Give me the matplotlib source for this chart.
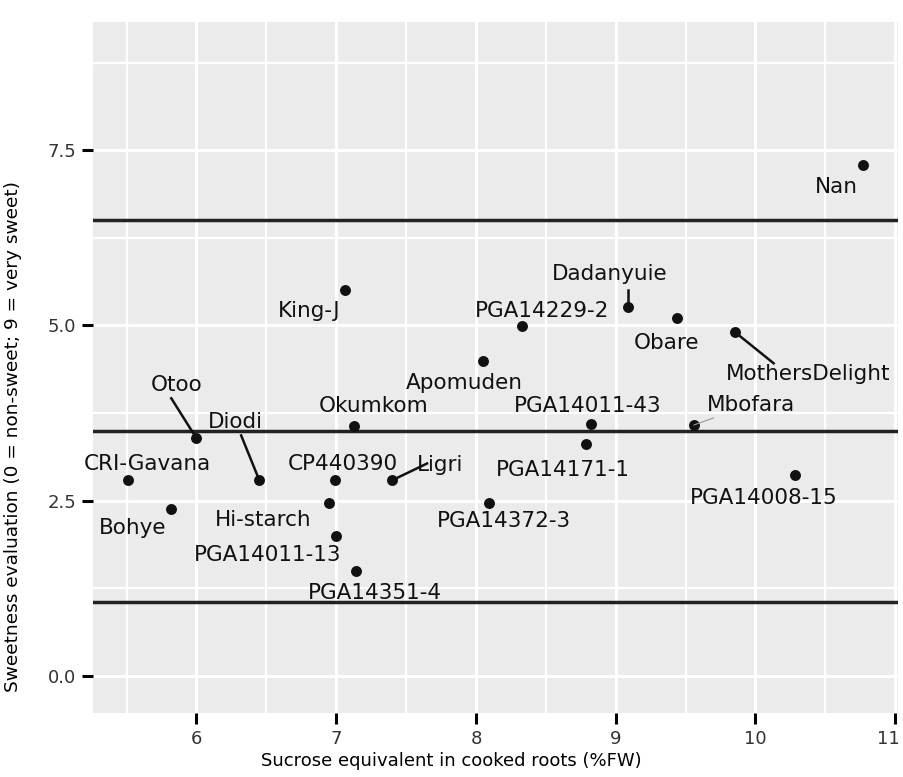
import matplotlib
matplotlib.use("Agg")
import matplotlib.pyplot as plt
from matplotlib.transforms import ScaledTranslation

# Data
cultivars = ["Nan", "King-J", "Dadanyuie", "Obare", "PGA14229-2", "MothersDelight",
             "Apomuden", "Okumkom", "PGA14011-43", "Mbofara", "Otoo", "PGA14171-1",
             "CRI-Gavana", "Diodi", "CP440390", "Ligri", "PGA14008-15", "Bohye",
             "Hi-starch", "PGA14372-3", "PGA14011-13", "PGA14351-4"]
sucrose = [10.77, 7.06, 9.09, 9.44, 8.33, 9.85,
           8.05, 7.13, 8.82, 9.56, 6.00, 8.79,
           5.51, 6.45, 6.99, 7.40, 10.28, 5.82,
           6.95, 8.09, 7.00, 7.14]
sweetness = [7.29, 5.50, 5.26, 5.10, 4.99, 4.91,
             4.49, 3.56, 3.60, 3.58, 3.39, 3.31,
             2.79, 2.79, 2.79, 2.79, 2.87, 2.38,
             2.46, 2.46, 1.99, 1.49]
thresholds = [6.5, 3.5, 1.05]

# Label placement (repelled label centres, data coords)
label_pos = {
    "Nan": (10.58, 6.97), "King-J": (6.81, 5.20), "Dadanyuie": (8.96, 5.73),
    "Obare": (9.36, 4.75), "PGA14229-2": (8.47, 5.20), "MothersDelight": (10.38, 4.30),
    "Apomuden": (7.92, 4.18), "Okumkom": (7.27, 3.85), "PGA14011-43": (8.80, 3.85),
    "Mbofara": (9.97, 3.86), "Otoo": (5.86, 4.15), "PGA14171-1": (8.62, 2.94),
    "CRI-Gavana": (5.65, 3.02), "Diodi": (6.28, 3.62), "CP440390": (7.05, 3.02),
    "Ligri": (7.74, 3.01), "PGA14008-15": (10.06, 2.54), "Bohye": (5.54, 2.11),
    "Hi-starch": (6.48, 2.22), "PGA14372-3": (8.20, 2.21), "PGA14011-13": (6.51, 1.72),
    "PGA14351-4": (7.28, 1.18),
}
# connector segment ends for labels pushed away from their point
segment_end = {
    "MothersDelight": (10.13, 4.46), "Otoo": (5.82, 3.96), "Diodi": (6.32, 3.43),
    "Ligri": (7.65, 3.03), "Dadanyuie": (9.09, 5.50), "Mbofara": (9.70, 3.68),
}

fig = plt.figure(figsize=(9.04, 7.77), dpi=100)
ax = fig.add_axes([0.1029, 0.0824, 0.8905, 0.8893])
ax.set_facecolor("#EBEBEB")
for s in ax.spines.values():
    s.set_visible(False)

ax.set_xlim(5.26, 11.02)
ax.set_ylim(-0.53, 9.33)
ax.set_xticks([6, 7, 8, 9, 10, 11])
ax.set_xticks([5.5, 6.5, 7.5, 8.5, 9.5, 10.5], minor=True)
ax.set_yticks([0.0, 2.5, 5.0, 7.5])
ax.set_yticklabels(["0.0", "2.5", "5.0", "7.5"])
ax.set_yticks([1.25, 3.75, 6.25, 8.75], minor=True)
ax.grid(True, which="major", color="white", linewidth=2.2)
ax.grid(True, which="minor", color="white", linewidth=1.6)
ax.set_axisbelow(True)
ax.tick_params(which="major", length=8, width=2.2, color="black", pad=4,
               labelsize=13, labelcolor="#333333")
ax.tick_params(which="minor", length=0)

# nudge the last x tick label so it stays inside the figure
last = ax.get_xticklabels()[-1]
last.set_transform(last.get_transform() + ScaledTranslation(-5 / 72, 0, fig.dpi_scale_trans))

for t in thresholds:
    ax.axhline(t, color="#222222", linewidth=2.5, zorder=3)

ax.scatter(sucrose, sweetness, s=62, color="#111111", zorder=4, linewidths=0)

for name, x, y in zip(cultivars, sucrose, sweetness):
    if name in segment_end:
        ex, ey = segment_end[name]
        if name == "Mbofara":
            ax.plot([x, ex], [y, ey], color="#999999", linewidth=0.8, zorder=4)
        else:
            ax.plot([x, ex], [y, ey], color="#111111", linewidth=1.8, zorder=4)
    lx, ly = label_pos[name]
    ax.text(lx, ly, name, ha="center", va="center", fontsize=15.5,
            color="#111111", zorder=2.5)

ax.set_xlabel("Sucrose equivalent in cooked roots (%FW)", fontsize=13)
ax.xaxis.set_label_coords(0.445, -0.056)
ax.set_ylabel("Sweetness evaluation (0 = non-sweet; 9 = very sweet)", fontsize=13.3)
ax.yaxis.set_label_coords(-0.088, 0.40)

fig.savefig("out.png", dpi=100)
